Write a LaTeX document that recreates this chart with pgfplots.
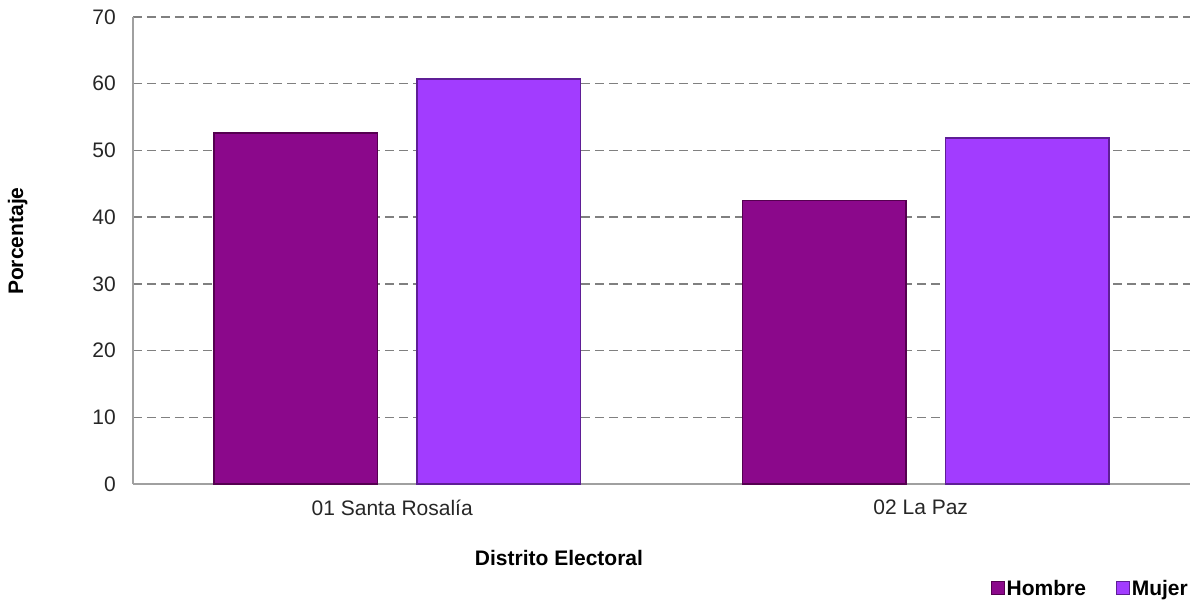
\documentclass[border=0pt]{standalone}
\usepackage{pgfplots}
\pgfplotsset{compat=1.18}
\usepackage{fontspec}
\setmainfont{Liberation Sans}
\definecolor{hombre}{RGB}{139,8,139}
\definecolor{hombreD}{RGB}{85,0,80}
\definecolor{mujer}{RGB}{162,60,255}
\definecolor{mujerD}{RGB}{95,30,150}
\definecolor{gridc}{RGB}{128,128,128}
\definecolor{axisc}{RGB}{160,160,160}
\begin{document}
\begin{tikzpicture}[x=1pt,y=1pt]
\useasboundingbox (0,0) rectangle (1200,602);
\begin{axis}[
  at={(133pt,118pt)}, anchor=south west,
  width=1057pt, height=467pt, scale only axis,
  xmin=-0.5, xmax=1.5, ymin=0, ymax=70,
  xtick={0,1}, xticklabels={01 Santa Rosalía, 02 La Paz},
  ytick={0,10,...,70},
  axis x line*=bottom, axis y line*=left,
  axis line style={draw=axisc, line width=1.3pt},
  tick style={draw=none},
  ymajorgrids, grid style={draw=gridc, line width=1.5pt, dash pattern=on 9pt off 5pt},
  /pgf/number format/assume math mode=true,
  every tick label/.append style={font=\fontsize{21}{24}\selectfont, text=black!85},
  yticklabel style={inner sep=0pt, xshift=-17pt},
  xticklabel style={inner sep=0pt, yshift=-16pt, xshift=-5pt},
  xlabel={\textbf{Distrito Electoral}},
  ylabel={\textbf{Porcentaje}},
  every axis x label/.style={at={(axis description cs:0.403,-0.158)}, anchor=center, font=\fontsize{21}{24}\selectfont},
  every axis y label/.style={at={(axis description cs:-0.109,0.52)}, anchor=center, rotate=90, font=\fontsize{21}{24}\selectfont},
  legend columns=2,
  legend style={at={(axis description cs:1,-0.223)}, anchor=east, draw=none, fill=none,
    font=\fontsize{21}{24}\selectfont\bfseries, inner sep=0pt,
    /tikz/every even column/.append style={column sep=28pt}},
  legend image code/.code={\draw[#1, line width=0.8pt] (0pt,-6.5pt) rectangle (13pt,6.5pt);},
  clip=false,
]
\addplot[ybar, bar width=0.31, bar shift=-0.192, fill=hombre, draw=hombreD, line width=1.5pt] coordinates {(0,52.6) (1,42.5)};
\addplot[ybar, bar width=0.31, bar shift=0.192, fill=mujer, draw=mujerD, line width=1.5pt] coordinates {(0,60.7) (1,51.9)};
\legend{Hombre, Mujer}
\end{axis}
\end{tikzpicture}
\end{document}
